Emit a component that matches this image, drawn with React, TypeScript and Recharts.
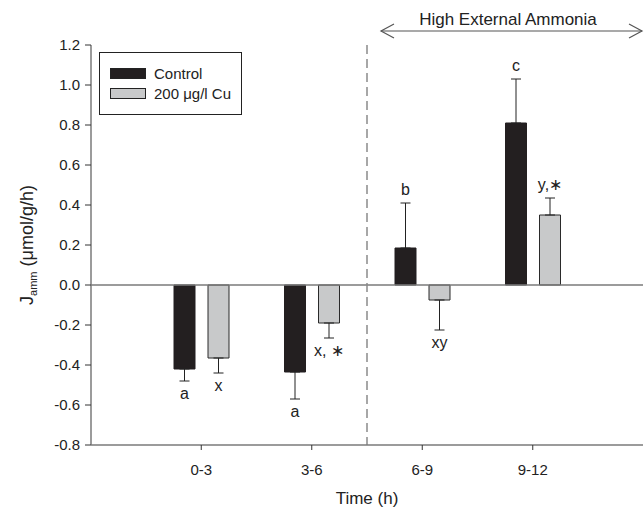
import {
    BarChart,
    Bar,
    XAxis,
    YAxis,
    ReferenceLine,
    ErrorBar,
    LabelList,
    Legend,
    Label,
} from 'recharts';

const periods = ['0-3', '3-6', '6-9', '9-12'];
const control = [-0.42, -0.435, 0.185, 0.81];
const controlSE = [0.06, 0.135, 0.225, 0.22];
const copper = [-0.365, -0.19, -0.075, 0.35];
const copperSE = [0.075, 0.075, 0.15, 0.085];
const controlLetters = ['a', 'a', 'b', 'c'];
const copperLetters = ['x', 'x, \u2217', 'xy', 'y,\u2217'];
const seriesNames = ['Control', '200 μg/l Cu'];
const yTicks = [-0.8, -0.6, -0.4, -0.2, 0, 0.2, 0.4, 0.6, 0.8, 1.0, 1.2];
// high ammonia starts halfway between 3-6 and 6-9 (positions 1..4 on a 0..5 axis)
const switchPos = 2.5;

// one-sided error bars: point away from zero
const oneSided = (v: number, se: number) => (v < 0 ? [se, 0] : [0, se]);

const rows = periods.map((period, i) => ({
    period,
    pos: i + 1,
    control: control[i],
    controlErr: oneSided(control[i], controlSE[i]),
    controlLetter: controlLetters[i],
    copper: copper[i],
    copperErr: oneSided(copper[i], copperSE[i]),
    copperLetter: copperLetters[i],
}));

const FONT = '"Liberation Sans", Arial, sans-serif';
const AXIS = '#7a7a7a';
const INK = '#222';

const letterAt = (values: number[], errs: number[]) => (props: any) => {
    const box = props.viewBox ?? props;
    const {x, y, width, height} = box;
    const i = props.index;
    const v = values[i];
    if (v === undefined) return null;
    const top = Math.min(y, y + height);
    const bottom = Math.max(y, y + height);
    const k = Math.abs(height) / Math.abs(v);
    const cx = x + width / 2;
    const ty = v < 0 ? bottom + errs[i] * k + 18 : top - errs[i] * k - 8;
    return (
        <text x={cx} y={ty} textAnchor="middle" fontSize={16} fill={INK} fontFamily={FONT}>
            {props.value}
        </text>
    );
};

function YTitle(props: any) {
    const vb = props.viewBox;
    const x = vb.x + 33;
    const y = vb.y + vb.height / 2;
    return (
        <text x={x} y={y} transform={`rotate(-90, ${x}, ${y})`} textAnchor="middle" fontSize={18} fill={INK} fontFamily={FONT}>
            <tspan>J</tspan>
            <tspan fontSize={11} dy={4}>amm</tspan>
            <tspan dy={-4}> (μmol/g/h)</tspan>
        </text>
    );
}

function LegendBox({payload}: any) {
    const items = seriesNames
        .map((n) => (payload ?? []).find((p: any) => p.value === n))
        .filter(Boolean);
    return (
        <div style={{border: `1px solid ${INK}`, background: '#fff', padding: '10px 10px 10px 10px', fontFamily: FONT, fontSize: 15, color: INK}}>
            {items.map((it: any) => (
                <div key={it.value} style={{display: 'flex', alignItems: 'center', height: 20.5}}>
                    <span
                        style={{
                            display: 'inline-block',
                            width: 34,
                            height: 9,
                            background: it.color,
                            border: `1px solid ${INK}`,
                            marginRight: 8,
                        }}
                    />
                    <span>{it.value}</span>
                </div>
            ))}
        </div>
    );
}

export default function App() {
    return (
        <div style={{position: 'absolute', left: 0, top: 0, width: 644, height: 511, fontFamily: FONT}}>
            <BarChart
                width={644}
                height={511}
                data={rows}
                margin={{top: 45, right: 1, bottom: 0, left: 0}}
                barSize={21}
                barGap={13}
            >
                <XAxis
                    dataKey="period"
                    padding={{left: 55, right: 55}}
                    height={66}
                    stroke={AXIS}
                    strokeWidth={1.5}
                    tickSize={5}
                    tickMargin={14}
                    tickLine={{stroke: '#333', strokeWidth: 1}}
                    tick={{fill: INK, fontSize: 15}}
                >
                    <Label value="Time (h)" position="insideBottom" offset={7} fill={INK} fontSize={17} />
                </XAxis>
                <XAxis
                    xAxisId="num"
                    dataKey="pos"
                    type="number"
                    domain={[0, 5]}
                    allowDataOverflow
                    orientation="top"
                    height={0}
                    tick={false}
                    tickLine={false}
                    stroke={AXIS}
                    strokeWidth={1.5}
                />
                <YAxis
                    domain={[-0.8, 1.2]}
                    ticks={yTicks}
                    width={91}
                    interval={0}
                    tickFormatter={(v: number) => v.toFixed(1)}
                    stroke={AXIS}
                    strokeWidth={1.5}
                    tickSize={6}
                    tickMargin={5}
                    tickLine={{stroke: '#333', strokeWidth: 1}}
                    tick={{fill: INK, fontSize: 15}}
                    label={<YTitle />}
                />
                <YAxis yAxisId="frame" orientation="right" width={0} tick={false} tickLine={false} stroke={AXIS} strokeWidth={1.5} />
                <Legend
                    layout="horizontal"
                    verticalAlign="middle"
                    align="center"
                    content={<LegendBox />}
                    wrapperStyle={{position: 'absolute', left: 99, top: 52, width: 'auto', height: 'auto'}}
                />
                <ReferenceLine y={0} stroke={AXIS} strokeWidth={1.5} />
                <ReferenceLine xAxisId="num" x={switchPos} stroke="#8a8a8a" strokeWidth={1.5} strokeDasharray="9 5" />
                <Bar dataKey="control" name={seriesNames[0]} fill="#231f20" stroke="#231f20" isAnimationActive={false}>
                    <ErrorBar dataKey="controlErr" width={5} stroke={INK} strokeWidth={1} direction="y" />
                    <LabelList dataKey="controlLetter" content={letterAt(control, controlSE)} />
                </Bar>
                <Bar dataKey="copper" name={seriesNames[1]} fill="#c8c9ca" stroke="#2a2a2a" strokeWidth={1} isAnimationActive={false}>
                    <ErrorBar dataKey="copperErr" width={5} stroke={INK} strokeWidth={1} direction="y" />
                    <LabelList dataKey="copperLetter" content={letterAt(copper, copperSE)} />
                </Bar>
            </BarChart>
            <svg width={644} height={44} style={{position: 'absolute', left: 0, top: 0, pointerEvents: 'none'}}>
                <text x={508} y={25} textAnchor="middle" fontSize={17} fill={INK} fontFamily={FONT}>
                    High External Ammonia
                </text>
                <line x1={381} y1={31} x2={642} y2={31} stroke="#555" strokeWidth={1.2} />
                <polyline points="394,24 381,31 394,38" fill="none" stroke="#555" strokeWidth={1.2} />
                <polyline points="629,24 642,31 629,38" fill="none" stroke="#555" strokeWidth={1.2} />
            </svg>
        </div>
    );
}
